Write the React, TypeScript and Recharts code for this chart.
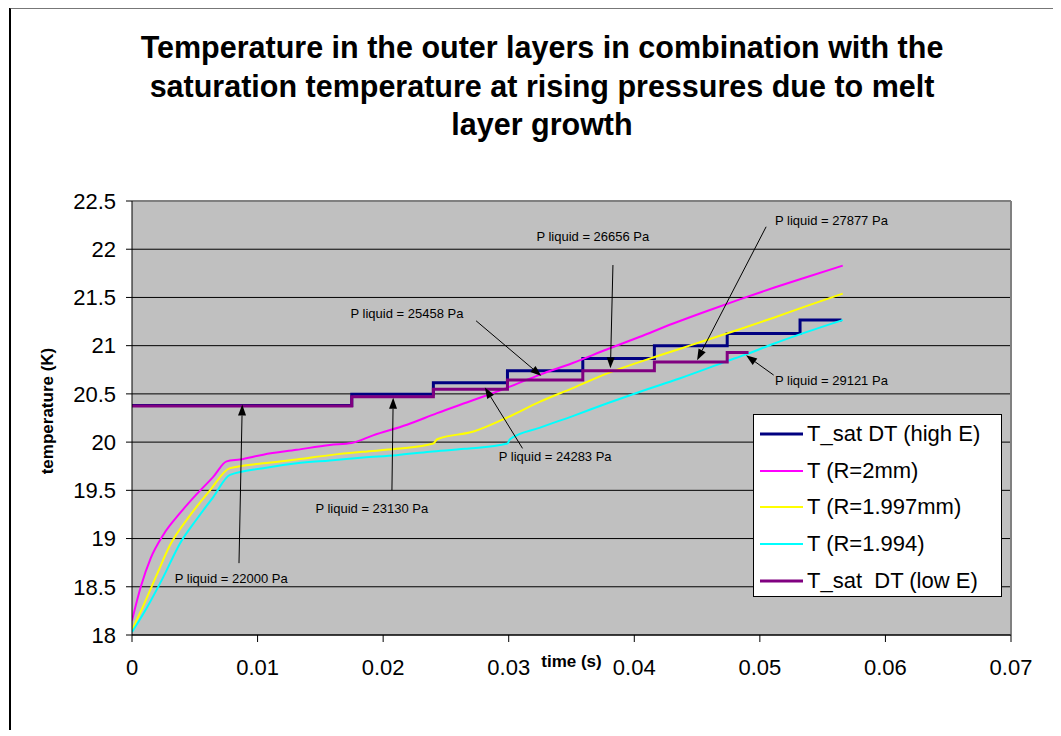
import React from 'react';
import {
  LineChart, Line, XAxis, YAxis, CartesianGrid, Legend, ReferenceLine, ReferenceDot,
} from 'recharts';

// ---------- data ----------
const xTicks = [0, 0.01, 0.02, 0.03, 0.04, 0.05, 0.06, 0.07];
const yTicks = [18, 18.5, 19, 19.5, 20, 20.5, 21, 21.5, 22, 22.5];

const satHighE = [
  { t: 0, v: 20.38 }, { t: 0.0175, v: 20.495 }, { t: 0.024, v: 20.615 },
  { t: 0.0299, v: 20.74 }, { t: 0.0359, v: 20.868 }, { t: 0.0416, v: 21.0 },
  { t: 0.0474, v: 21.127 }, { t: 0.0532, v: 21.265 }, { t: 0.0565, v: 21.265 },
];

const satLowE = [
  { t: 0, v: 20.375 }, { t: 0.0175, v: 20.47 }, { t: 0.024, v: 20.547 },
  { t: 0.0299, v: 20.643 }, { t: 0.0359, v: 20.74 }, { t: 0.0416, v: 20.83 },
  { t: 0.0474, v: 20.93 }, { t: 0.0491, v: 20.93 },
];

const tR2000 = [
  { t: 0, v: 18.15 }, { t: 0.0007, v: 18.5 }, { t: 0.0015, v: 18.8 },
  { t: 0.0025, v: 19.04 }, { t: 0.0038, v: 19.26 }, { t: 0.00515, v: 19.46 },
  { t: 0.00647, v: 19.64 }, { t: 0.00754, v: 19.8 }, { t: 0.0086, v: 19.82 },
  { t: 0.01045, v: 19.87 }, { t: 0.01311, v: 19.92 }, { t: 0.01576, v: 19.97 },
  { t: 0.0175, v: 19.99 }, { t: 0.0192, v: 20.07 }, { t: 0.0219, v: 20.18 },
  { t: 0.0243, v: 20.3 }, { t: 0.0272, v: 20.436 }, { t: 0.0298, v: 20.56 },
  { t: 0.0325, v: 20.7 }, { t: 0.0351, v: 20.82 }, { t: 0.0378, v: 20.96 },
  { t: 0.0404, v: 21.09 }, { t: 0.0431, v: 21.23 }, { t: 0.0458, v: 21.36 },
  { t: 0.0484, v: 21.48 }, { t: 0.0511, v: 21.6 }, { t: 0.0537, v: 21.71 },
  { t: 0.0566, v: 21.83 },
];

const tR1997 = [
  { t: 0, v: 18.05 }, { t: 0.00089, v: 18.3 }, { t: 0.00196, v: 18.62 },
  { t: 0.00302, v: 18.93 }, { t: 0.00462, v: 19.24 }, { t: 0.00621, v: 19.5 },
  { t: 0.0078, v: 19.73 }, { t: 0.01045, v: 19.78 }, { t: 0.01311, v: 19.82 },
  { t: 0.01576, v: 19.865 }, { t: 0.01842, v: 19.9 }, { t: 0.02107, v: 19.93 },
  { t: 0.0240, v: 19.985 }, { t: 0.0243, v: 20.03 }, { t: 0.0272, v: 20.11 },
  { t: 0.0298, v: 20.25 }, { t: 0.0325, v: 20.42 }, { t: 0.0351, v: 20.56 },
  { t: 0.0378, v: 20.71 }, { t: 0.0418, v: 20.89 }, { t: 0.0444, v: 21.0 },
  { t: 0.0484, v: 21.17 }, { t: 0.0511, v: 21.29 }, { t: 0.0537, v: 21.41 },
  { t: 0.0566, v: 21.54 },
];

const tR1994 = [
  { t: 0, v: 18.03 }, { t: 0.00117, v: 18.28 }, { t: 0.00249, v: 18.6 },
  { t: 0.00382, v: 18.95 }, { t: 0.00515, v: 19.2 }, { t: 0.00647, v: 19.43 },
  { t: 0.0078, v: 19.66 }, { t: 0.01045, v: 19.73 }, { t: 0.01311, v: 19.78 },
  { t: 0.01576, v: 19.81 }, { t: 0.01842, v: 19.84 }, { t: 0.02107, v: 19.865 },
  { t: 0.02372, v: 19.9 }, { t: 0.0265, v: 19.93 }, { t: 0.0299, v: 19.985 },
  { t: 0.0301, v: 20.03 }, { t: 0.0325, v: 20.15 }, { t: 0.0351, v: 20.27 },
  { t: 0.0378, v: 20.4 }, { t: 0.0404, v: 20.52 }, { t: 0.0436, v: 20.66 },
  { t: 0.0474, v: 20.84 }, { t: 0.0489, v: 20.91 }, { t: 0.0511, v: 21.02 },
  { t: 0.0537, v: 21.14 }, { t: 0.0566, v: 21.266 },
];

const annLabels = [
  'P liquid = 22000 Pa', 'P liquid = 23130 Pa', 'P liquid = 25458 Pa',
  'P liquid = 24283 Pa', 'P liquid = 26656 Pa', 'P liquid = 27877 Pa',
  'P liquid = 29121 Pa',
];
const annTextPos = [
  [0.0079, 18.59], [0.0191, 19.315], [0.0219, 21.335], [0.0337, 19.847],
  [0.0367, 22.137], [0.0557, 22.3], [0.0557, 20.643],
];
const annArrows = [
  [0.00852, 18.745, 0.00878, 20.39], [0.0207, 19.5, 0.0208, 20.46],
  [0.0274, 21.258, 0.0326, 20.685], [0.0311, 19.935, 0.0281, 20.567],
  [0.0383, 21.836, 0.0381, 20.765], [0.0505, 22.233, 0.045, 20.85],
  [0.0511, 20.695, 0.0489, 20.9],
];

const series = [
  { name: 'T_sat DT (high E)', data: satHighE, color: '#000080', width: 3, step: true },
  { name: 'T (R=2mm)', data: tR2000, color: '#FF00FF', width: 2, step: false },
  { name: 'T (R=1.997mm)', data: tR1997, color: '#FFFF00', width: 2, step: false },
  { name: 'T (R=1.994)', data: tR1994, color: '#00FFFF', width: 2, step: false },
  { name: 'T_sat  DT (low E)', data: satLowE, color: '#800080', width: 3, step: true },
];

const FONT = '"Liberation Sans", Arial, sans-serif';

const ArrowShape = (props: any) => {
  const { x1, y1, x2, y2 } = props;
  const ang = Math.atan2(y2 - y1, x2 - x1);
  const L = 11, W = 4;
  const bx = x2 - L * Math.cos(ang), by = y2 - L * Math.sin(ang);
  const px = -Math.sin(ang) * W, py = Math.cos(ang) * W;
  return (
    <g>
      <line x1={x1} y1={y1} x2={bx} y2={by} stroke="#000" strokeWidth={1} />
      <polygon points={`${x2},${y2} ${bx + px},${by + py} ${bx - px},${by - py}`} fill="#000" />
    </g>
  );
};

const LegendBox = () => (
  <div style={{
    width: 249, height: 183, background: '#fff', border: '1px solid #000', boxSizing: 'border-box',
    fontFamily: FONT, fontSize: 22, color: '#000', paddingTop: 1,
  }}>
    {series.map((s) => (
      <div key={s.name} style={{ display: 'flex', alignItems: 'center', height: 36.6 }}>
        <svg width={50} height={8} style={{ marginLeft: 6 }}>
          <line x1={0} y1={4} x2={43} y2={4} stroke={s.color} strokeWidth={s.width} />
        </svg>
        <span style={{ whiteSpace: 'pre', marginLeft: -3 }}>{s.name}</span>
      </div>
    ))}
  </div>
);

export default function App() {
  return (
    <div style={{ position: 'relative', width: 1045, height: 722 }}>
      <div style={{ position: 'absolute', left: 1, top: -1, width: 1060, height: 740, borderTop: '2px solid #777', borderLeft: '2px solid #000', pointerEvents: 'none' }} />
      <div style={{
        position: 'absolute', left: 34, top: 20, width: 1000, textAlign: 'center',
        fontFamily: FONT, fontWeight: 'bold', fontSize: 30.5, lineHeight: '38.5px', color: '#000',
      }}>
        Temperature in the outer layers in combination with the<br />
        saturation temperature at rising pressures due to melt<br />
        layer growth
      </div>
      <LineChart width={1045} height={722} margin={{ top: 193, right: 42, bottom: 55, left: 24 }}>
        <CartesianGrid fill="#C0C0C0" stroke="#000" vertical={false} />
        <XAxis
          type="number" dataKey="t" domain={[0, 0.07]} ticks={xTicks} height={40}
          tickFormatter={(v: number) => String(v)}
          tick={{ fontSize: 22, fill: '#000', fontFamily: FONT }}
          tickSize={7} tickMargin={17}
          axisLine={{ stroke: '#000' }} tickLine={{ stroke: '#000' }}
          allowDataOverflow
          label={{
            content: (p: any) => (
              <text x={p.viewBox.x + p.viewBox.width / 2} y={p.viewBox.y + 26} textAnchor="middle" dominantBaseline="central"
                style={{ fontFamily: FONT, fontWeight: 'bold', fontSize: 17 }} fill="#000">time (s)</text>
            ),
          }}
        />
        <YAxis
          type="number" domain={[18, 22.5]} ticks={yTicks} width={100}
          tickFormatter={(v: number) => String(v)}
          tick={{ fontSize: 22, fill: '#000', fontFamily: FONT }}
          tickSize={6} tickMargin={10}
          axisLine={{ stroke: '#000' }} tickLine={{ stroke: '#000' }}
          allowDataOverflow
          interval={0}
          label={{
            content: (p: any) => {
              const cx = p.viewBox.x + 15;
              const cy = p.viewBox.y + p.viewBox.height / 2 - 7;
              return (
                <text x={cx} y={cy} textAnchor="middle" dominantBaseline="central" transform={`rotate(-90 ${cx} ${cy})`}
                  style={{ fontFamily: FONT, fontWeight: 'bold', fontSize: 17 }} fill="#000">temperature (K)</text>
              );
            },
          }}
        />
        <ReferenceLine y={22.5} stroke="#808080" strokeWidth={2} />
        <ReferenceLine x={0.07} stroke="#808080" strokeWidth={2} />
        {series.map((s) => (
          <Line key={s.name} data={s.data} dataKey="v" name={s.name} type={s.step ? 'stepAfter' : 'monotone'}
            stroke={s.color} strokeWidth={s.width} dot={false} activeDot={false} isAnimationActive={false} />
        ))}
        {annArrows.map((a, i) => (
          <ReferenceLine key={'a' + i} segment={[{ x: a[0], y: a[1] }, { x: a[2], y: a[3] }]} shape={ArrowShape} />
        ))}
        {annTextPos.map((p, i) => (
          <ReferenceDot key={'t' + i} x={p[0]} y={p[1]} r={0}
            shape={(d: any) => (
              <text x={d.cx} y={d.cy} textAnchor="middle" dominantBaseline="central"
                style={{ fontFamily: FONT, fontSize: 13 }} fill="#000">{annLabels[i]}</text>
            )}
          />
        ))}
        <Legend layout="vertical" align="center" verticalAlign="middle" content={<LegendBox />}
          wrapperStyle={{ position: 'absolute', left: 745, top: 406, width: 249, height: 183 }} />
      </LineChart>
    </div>
  );
}
